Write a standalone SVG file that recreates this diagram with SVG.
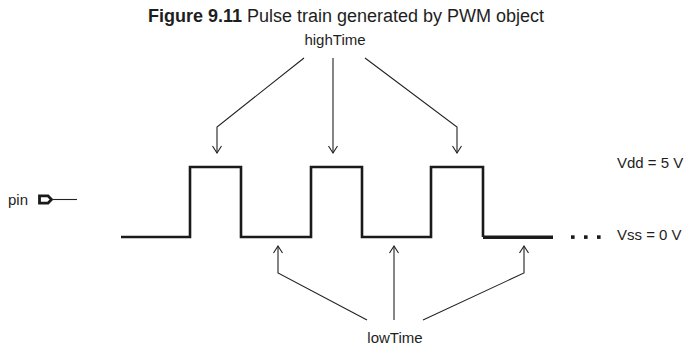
<svg xmlns="http://www.w3.org/2000/svg" width="691" height="352" viewBox="0 0 691 352">
<style>
text{font-family:"Liberation Sans",Arial,sans-serif;fill:#1e1e1e;font-size:15px}
.t{font-size:18px}
.w{fill:none;stroke:#1a1a1a;stroke-width:2.6;stroke-linejoin:miter}
.c{fill:none;stroke:#222;stroke-width:1.1}
.d{fill:#1a1a1a}
</style>
<defs>
<marker id="ah" markerWidth="12" markerHeight="12" refX="8" refY="6" orient="auto" markerUnits="userSpaceOnUse">
<path d="M1,1.5 L8,6 L1,10.5" fill="none" stroke="#222" stroke-width="1.1"/>
</marker>
</defs>
<rect width="691" height="352" fill="#fff"/>
<g id="title"><text class="t" x="346" y="22" text-anchor="middle"><tspan font-weight="bold">Figure 9.11</tspan> Pulse train generated by PWM object</text></g>
<g id="highTime"><text x="335" y="45" text-anchor="middle">highTime</text></g>
<g id="lowTime"><text x="395" y="343" text-anchor="middle">lowTime</text></g>
<g id="pin">
<text x="8" y="205">pin</text>
<path d="M39.5,195.8 H48 L51.5,199.5 L48,203.2 H39.5 Z" fill="#fff" stroke="#1a1a1a" stroke-width="2.8"/>
<line x1="52" y1="199.5" x2="77" y2="199.5" stroke="#222" stroke-width="1.1"/>
</g>
<g id="waveform">
<path class="w" d="M121,237 H190 V167 H241 V237 H311 V167 H362 V237 H431 V167 H483 V237"/>
<line x1="483" y1="237.3" x2="553" y2="237.3" stroke="#1a1a1a" stroke-width="3.4"/>
<rect class="d" x="571" y="235.3" width="3.6" height="3.6"/>
<rect class="d" x="584" y="235.3" width="3.6" height="3.6"/>
<rect class="d" x="597" y="235.3" width="3.6" height="3.6"/>
</g>
<g id="vdd"><text x="617" y="168">Vdd = 5 V</text></g>
<g id="vss"><text x="617" y="240">Vss = 0 V</text></g>
<g id="connectors">
<polyline class="c" points="304,58 217,127 217,153" marker-end="url(#ah)"/>
<polyline class="c" points="333,58 333,153" marker-end="url(#ah)"/>
<polyline class="c" points="365,58 457,127 457,153" marker-end="url(#ah)"/>
<polyline class="c" points="367,320 278,273 278,246" marker-end="url(#ah)"/>
<polyline class="c" points="394,320 394,246" marker-end="url(#ah)"/>
<polyline class="c" points="423,320 524,273 524,246" marker-end="url(#ah)"/>
</g>
</svg>
